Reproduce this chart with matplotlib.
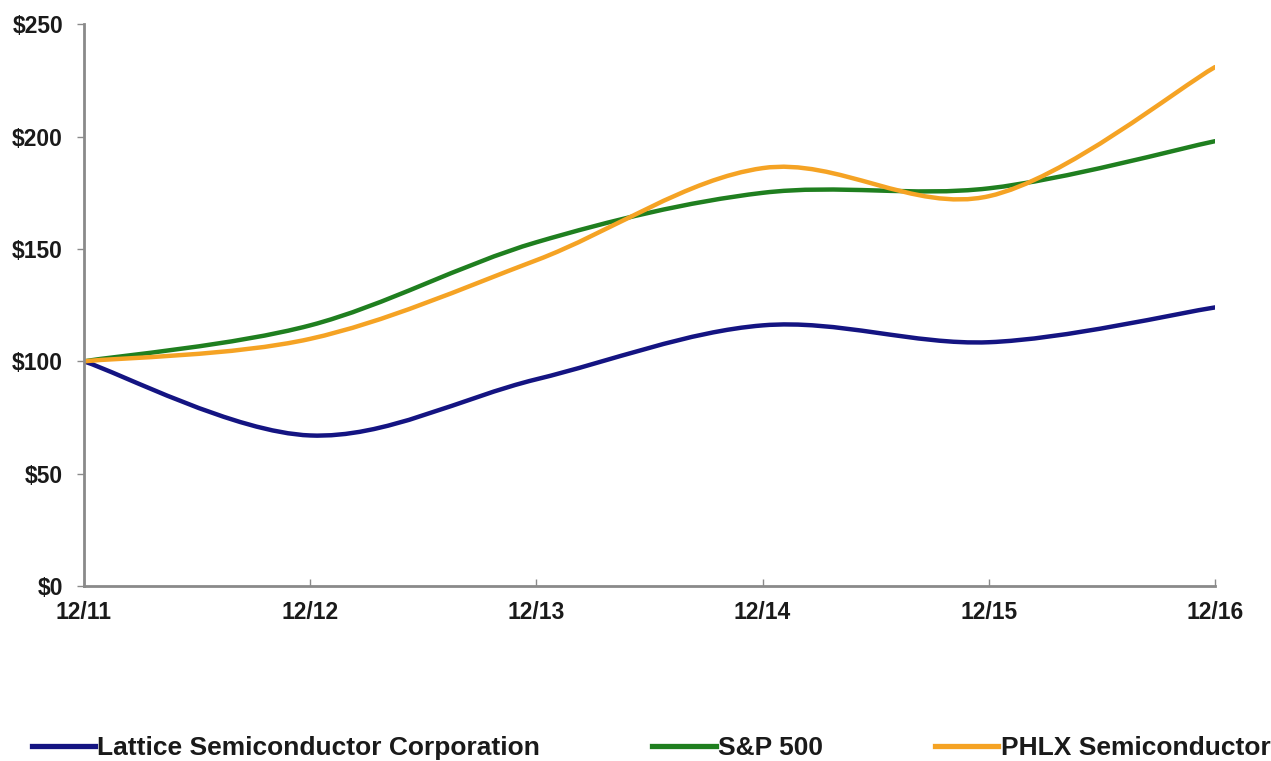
import matplotlib.pyplot as plt
from matplotlib.path import Path
from matplotlib.patches import PathPatch
from matplotlib.lines import Line2D

# Data (value of $100 invested, Dec 2011 - Dec 2016)
years = ['12/11', '12/12', '12/13', '12/14', '12/15', '12/16']
lattice = [100, 67, 92, 116, 108.5, 124]
sp500 = [100, 116, 153, 175, 177, 198]
phlx = [100, 110, 145, 186, 173.5, 231]

series = [
    ('Lattice Semiconductor Corporation', lattice, '#141482'),
    ('S&P 500', sp500, '#1f7f1f'),
    ('PHLX Semiconductor', phlx, '#f5a324'),
]

plt.rcParams['font.family'] = ['Liberation Sans', 'DejaVu Sans']
plt.rcParams['font.weight'] = 'bold'


# smooth line through the points (Excel-like), drawn as cubic Bezier path
def smooth_path(xs, ys):
    pts = list(zip(xs, ys))
    n = len(pts)
    verts = [pts[0]]
    codes = [Path.MOVETO]
    for i in range(n - 1):
        p0 = pts[max(i - 1, 0)]
        p1 = pts[i]
        p2 = pts[i + 1]
        p3 = pts[min(i + 2, n - 1)]
        c1 = (p1[0] + (p2[0] - p0[0]) / 6, p1[1] + (p2[1] - p0[1]) / 6)
        c2 = (p2[0] - (p3[0] - p1[0]) / 6, p2[1] - (p3[1] - p1[1]) / 6)
        verts += [c1, c2, p2]
        codes += [Path.CURVE4] * 3
    return Path(verts, codes)


fig = plt.figure(figsize=(12.71, 7.61), dpi=100)
ax = fig.add_axes([0.066, 0.23, 0.89, 0.738])

x = list(range(len(years)))
handles = []
for name, vals, color in series:
    patch = PathPatch(smooth_path(x, vals), facecolor='none', edgecolor=color,
                      lw=3.2, capstyle='round', joinstyle='round')
    ax.add_patch(patch)
    handles.append(Line2D([], [], color=color, lw=3.8, label=name))

ax.set_xlim(0, 5)
ax.set_ylim(0, 250)
ax.set_xticks(x)
ax.set_xticklabels(years)
ax.set_yticks([0, 50, 100, 150, 200, 250])
ax.set_yticklabels(['$0', '$50', '$100', '$150', '$200', '$250'])

for s in ['top', 'right']:
    ax.spines[s].set_visible(False)
for s in ['left', 'bottom']:
    ax.spines[s].set_color('#8a8a8a')
    ax.spines[s].set_linewidth(2)

ax.tick_params(axis='y', direction='out', length=5, width=1, color='#8a8a8a',
               labelsize=16.5, pad=10)
ax.tick_params(axis='x', direction='in', length=5, width=1, color='#8a8a8a',
               labelsize=16.5, pad=11)
for lbl in ax.get_xticklabels() + ax.get_yticklabels():
    lbl.set_fontweight('bold')
    lbl.set_color('#1a1a1a')

leg = fig.legend(handles=handles, loc='center left',
                 bbox_to_anchor=(32 / 1271, 1 - 748 / 761),
                 ncol=3, frameon=False, fontsize=19, handlelength=2.4,
                 handletextpad=0.08, columnspacing=4.25, borderpad=0,
                 borderaxespad=0)
for t in leg.get_texts():
    t.set_fontweight('bold')
    t.set_color('#1a1a1a')

plt.savefig('out.png', dpi=100)
